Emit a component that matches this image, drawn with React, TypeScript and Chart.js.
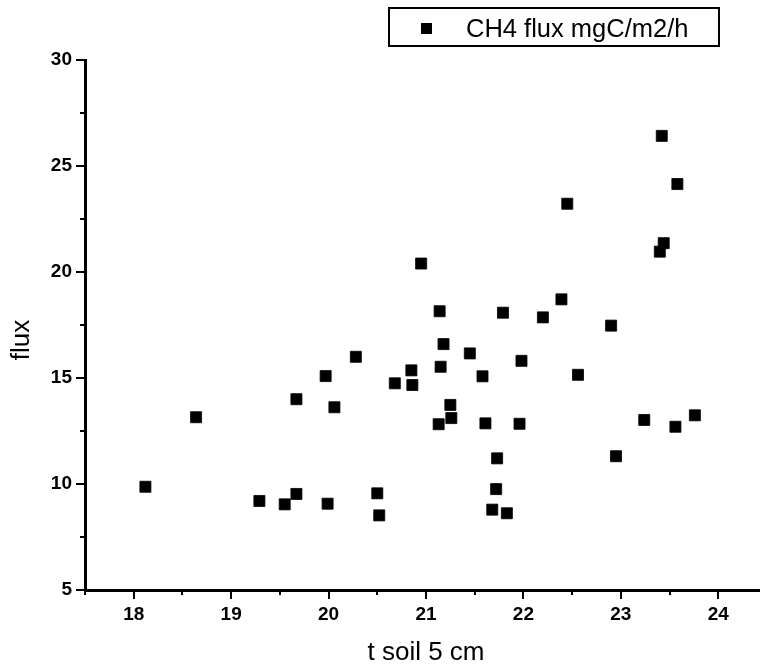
import React, { useEffect, useRef } from 'react';
import { Chart, registerables } from 'chart.js';

Chart.register(...registerables);

const SERIES_LABEL = 'CH4 flux mgC/m2/h';
const X_TITLE = 't soil 5 cm';
const Y_TITLE = 'flux';

const soilTemp = [
  18.12, 18.64, 19.29, 19.55, 19.67, 19.67, 19.97, 19.99, 20.06, 20.28,
  20.5, 20.52, 20.68, 20.85, 20.86, 20.95, 21.13, 21.14, 21.15, 21.18,
  21.25, 21.26, 21.45, 21.58, 21.61, 21.68, 21.72, 21.73, 21.79, 21.83,
  21.96, 21.98, 22.2, 22.39, 22.45, 22.56, 22.9, 22.95, 23.24, 23.4,
  23.42, 23.44, 23.56, 23.58, 23.76,
];
const ch4Flux = [
  9.87, 13.15, 9.2, 9.04, 9.53, 14.0, 15.09, 9.07, 13.62, 16.0,
  9.56, 8.52, 14.75, 15.36, 14.67, 20.4, 12.82, 18.15, 15.53, 16.6,
  13.73, 13.11, 16.16, 15.08, 12.86, 8.79, 9.76, 11.21, 18.08, 8.62,
  12.84, 15.81, 17.86, 18.71, 23.22, 15.15, 17.47, 11.31, 13.02, 20.96,
  26.42, 21.36, 12.7, 24.15, 13.24,
];

const X_MIN = 17.5;
const X_MAX = 24.5;
const Y_MIN = 5;
const Y_MAX = 30;
const X_MAJOR_TICKS = [18, 19, 20, 21, 22, 23, 24];
const X_MINOR_TICKS = [17.5, 18.5, 19.5, 20.5, 21.5, 22.5, 23.5, 24.5];
const Y_MAJOR_TICKS = [5, 10, 15, 20, 25, 30];
const Y_MINOR_TICKS = [7.5, 12.5, 17.5, 22.5, 27.5];

const FONT = "'Liberation Sans', Arial, Helvetica, sans-serif";

const tickMarks = {
  id: 'tickMarks',
  afterDraw(chart: any) {
    const { ctx, scales } = chart;
    const xs = scales.x;
    const ys = scales.y;
    ctx.save();
    ctx.strokeStyle = '#000';
    ctx.lineWidth = 2;
    const base = ys.bottom;
    const left = xs.left;
    const drawX = (v: number, len: number) => {
      const px = Math.round(xs.getPixelForValue(v));
      ctx.beginPath();
      ctx.moveTo(px, base);
      ctx.lineTo(px, base + len);
      ctx.stroke();
    };
    const drawY = (v: number, len: number) => {
      const py = Math.round(ys.getPixelForValue(v));
      ctx.beginPath();
      ctx.moveTo(left, py);
      ctx.lineTo(left - len, py);
      ctx.stroke();
    };
    X_MAJOR_TICKS.forEach((v) => drawX(v, 9));
    X_MINOR_TICKS.forEach((v) => drawX(v, 5));
    Y_MAJOR_TICKS.forEach((v) => drawY(v, 9));
    Y_MINOR_TICKS.forEach((v) => drawY(v, 5));
    ctx.restore();
  },
};

const yTitle = {
  id: 'yTitle',
  afterDraw(chart: any) {
    const { ctx } = chart;
    ctx.save();
    ctx.translate(22, 340);
    ctx.rotate(-Math.PI / 2);
    ctx.fillStyle = '#000';
    ctx.font = `26px ${FONT}`;
    ctx.textAlign = 'center';
    ctx.textBaseline = 'middle';
    ctx.fillText(Y_TITLE, 0, 0);
    ctx.restore();
  },
};

const boxLegend = {
  id: 'boxLegend',
  afterDraw(chart: any) {
    const { ctx } = chart;
    const label = chart.data.datasets[0].label;
    ctx.save();
    ctx.strokeStyle = '#000';
    ctx.lineWidth = 2;
    ctx.strokeRect(389, 8, 330, 38);
    ctx.fillStyle = '#000';
    ctx.fillRect(421, 23, 11, 11);
    ctx.font = `25.5px ${FONT}`;
    ctx.textBaseline = 'alphabetic';
    ctx.textAlign = 'left';
    ctx.fillText(label, 466, 37);
    ctx.restore();
  },
};

export default function App() {
  const canvasRef = useRef<HTMLCanvasElement | null>(null);

  useEffect(() => {
    const canvas = canvasRef.current;
    if (!canvas) return;
    const points = soilTemp.map((x, i) => ({ x, y: ch4Flux[i] }));
    const chart = new Chart(canvas, {
      type: 'scatter',
      data: {
        datasets: [
          {
            label: SERIES_LABEL,
            data: points,
            pointStyle: 'rect',
            pointRadius: 7.8,
            pointHoverRadius: 7.8,
            backgroundColor: '#000',
            borderColor: '#000',
            borderWidth: 0.8,
          },
        ],
      },
      options: {
        animation: false,
        responsive: false,
        layout: { autoPadding: false, padding: { top: 60, left: 0, right: 0, bottom: 0 } },
        plugins: {
          legend: { display: false },
          tooltip: { enabled: false },
        },
        scales: {
          x: {
            type: 'linear',
            min: X_MIN,
            max: X_MAX,
            grid: { display: false },
            border: { display: true, color: '#000', width: 3 },
            afterBuildTicks: (scale: any) => {
              scale.ticks = X_MAJOR_TICKS.map((value) => ({ value }));
            },
            afterFit: (scale: any) => {
              scale.height = 78;
            },
            ticks: {
              color: '#000',
              padding: 5,
              maxRotation: 0,
              autoSkip: false,
              font: { family: FONT, size: 19, weight: 'bold' },
              callback: (v: any) => String(v),
            },
            title: {
              display: true,
              text: X_TITLE,
              color: '#000',
              padding: { top: 0, bottom: 0 },
              font: { family: FONT, size: 26 },
            },
          },
          y: {
            type: 'linear',
            min: Y_MIN,
            max: Y_MAX,
            grid: { display: false },
            border: { display: true, color: '#000', width: 3 },
            afterBuildTicks: (scale: any) => {
              scale.ticks = Y_MAJOR_TICKS.map((value) => ({ value }));
            },
            afterFit: (scale: any) => {
              scale.width = 85;
            },
            ticks: {
              color: '#000',
              padding: 5,
              autoSkip: false,
              font: { family: FONT, size: 19, weight: 'bold' },
              callback: (v: any) => String(v),
            },
            title: { display: false },
          },
        },
      },
      plugins: [tickMarks, yTitle, boxLegend],
    });
    return () => chart.destroy();
  }, []);

  return (
    <div
      style={{
        position: 'fixed',
        left: 0,
        top: 0,
        width: 760,
        height: 668,
        overflow: 'hidden',
        background: '#fff',
      }}
    >
      <canvas ref={canvasRef} width={767} height={668} style={{ width: 767, height: 668, display: 'block' }} />
    </div>
  );
}
